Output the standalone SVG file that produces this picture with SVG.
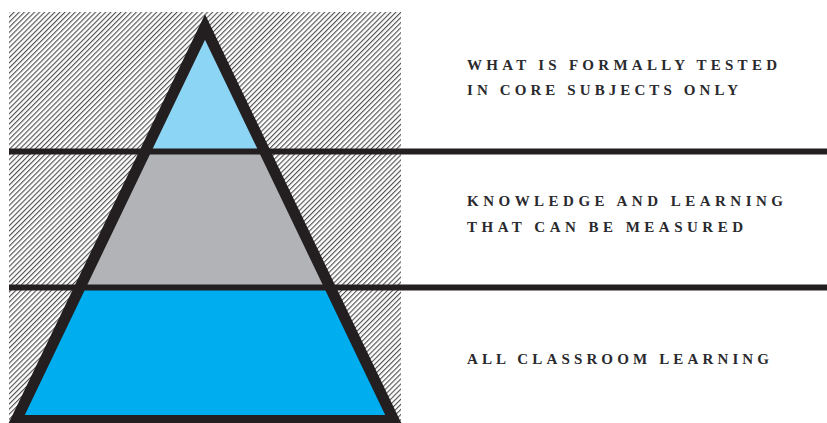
<svg xmlns="http://www.w3.org/2000/svg" width="827" height="423" viewBox="0 0 827 423">
  <defs>
    <pattern id="hatch" patternUnits="userSpaceOnUse" width="3.6" height="10" patternTransform="rotate(45)">
      <rect x="0" y="0" width="3.6" height="10" fill="#ffffff"/>
      <line x1="0.6" y1="0" x2="0.6" y2="10" stroke="#3a3a3a" stroke-width="1"/>
    </pattern>
    <style>
      .outline { fill: none; stroke: #231f20; stroke-width: 11; stroke-linejoin: miter; stroke-miterlimit: 10; }
      .divider { stroke: #231f20; stroke-width: 6; }
      .label { font-family: "Liberation Serif", "Times New Roman", serif; font-size: 15px; font-weight: bold; fill: #2a2a2e; }
    </style>
  </defs>
  <rect width="827" height="423" fill="#ffffff"/>
  <rect id="hatch-area" x="9" y="12" width="392" height="411" fill="url(#hatch)"/>

  <g id="tier-tested">
    <polygon points="205,27 264.8,151.5 145.2,151.5" fill="#8dd5f5"/>
  </g>
  <g id="tier-measured">
    <polygon points="145.2,151.5 264.8,151.5 330.04,287.5 79.96,287.5" fill="#b1b3b6"/>
  </g>
  <g id="tier-all">
    <polygon points="79.96,287.5 330.04,287.5 394,420.5 16,420.5" fill="#00aeef"/>
  </g>

  <g id="connectors">
    <line class="divider" x1="9" y1="151.5" x2="827" y2="151.5"/>
    <line class="divider" x1="9" y1="287.5" x2="827" y2="287.5"/>
  </g>

  <g id="pyramid-outline">
    <polygon class="outline" points="205,27 394,420.5 16,420.5"/>
  </g>

  <g id="label-tested">
    <text class="label" x="467" y="70" textLength="310" lengthAdjust="spacing">WHAT IS FORMALLY TESTED</text>
    <text class="label" x="467" y="95" textLength="271" lengthAdjust="spacing">IN CORE SUBJECTS ONLY</text>
  </g>
  <g id="label-measured">
    <text class="label" x="467" y="206" textLength="316" lengthAdjust="spacing">KNOWLEDGE AND LEARNING</text>
    <text class="label" x="467" y="232" textLength="276" lengthAdjust="spacing">THAT CAN BE MEASURED</text>
  </g>
  <g id="label-all">
    <text class="label" x="467" y="364" textLength="302" lengthAdjust="spacing">ALL CLASSROOM LEARNING</text>
  </g>
</svg>
